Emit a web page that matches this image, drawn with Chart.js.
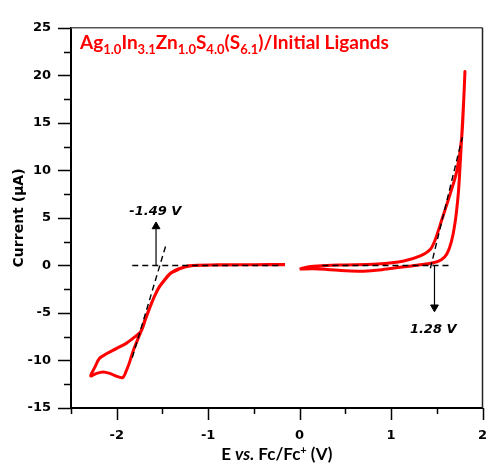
<!DOCTYPE html>
<html>
<head>
<meta charset="utf-8">
<title>CV onset</title>
<script src="https://cdn.jsdelivr.net/npm/chart.js@4.4.0/dist/chart.umd.min.js"></script>
<style>
  html, body { margin: 0; padding: 0; background: #fff; }
</style>
</head>
<body>
<canvas id="cvChart" width="488" height="464"></canvas>
<script>
// reduction scan (left loop), potential in V vs Fc/Fc+, current in uA
const leftE = [-0.16, -0.6, -0.9, -1.21, -1.32, -1.41, -1.48, -1.535, -1.59, -1.643, -1.698, -1.735,
  -1.788, -1.824, -1.86, -1.896, -1.935, -2.005, -2.077, -2.15, -2.22, -2.285,
  -2.24, -2.19, -2.113, -2.005, -1.896, -1.806, -1.735, -1.69, -1.64, -1.59, -1.535, -1.48, -1.41, -1.32, -1.2, -0.9, -0.5, -0.16];
const leftI = [0.08, 0.07, 0.06, -0.04, -0.4, -0.84, -1.6, -2.29, -3.32, -4.53, -5.9, -6.94,
  -8.2, -9.1, -10.2, -11.1, -11.8, -11.65, -11.35, -11.2, -11.35, -11.62,
  -10.73, -9.8, -9.3, -8.75, -8.2, -7.55, -6.94, -5.8, -4.5, -3.3, -2.25, -1.55, -0.8, -0.35, -0.05, 0.05, 0.08, 0.1];

// oxidation scan (right loop)
const rightE = [0.0, 0.15, 0.3, 0.5, 0.7, 0.9, 1.1, 1.3, 1.45, 1.55, 1.61, 1.66, 1.70, 1.735, 1.755, 1.775, 1.795, 1.808,
  1.797, 1.772, 1.718, 1.646, 1.555, 1.483, 1.428, 1.32, 1.14, 0.85, 0.5, 0.3, 0.12, 0.02, 0.0];
const rightI = [-0.38, -0.35, -0.42, -0.55, -0.6, -0.45, -0.2, 0.05, 0.25, 0.6, 1.2, 2.5, 4.5, 7.5, 10.5, 14, 17.5, 20.4,
  17.9, 13.4, 9.9, 7.5, 4.8, 2.7, 1.67, 1.0, 0.47, 0.15, 0.05, 0.0, -0.12, -0.32, -0.38];

// onset construction lines
const baseLeftE = [-1.83, -0.2];
const baseLeftI = [0, 0];
const tangentLeftE = [-1.83, -1.46];
const tangentLeftI = [-9.7, 2.2];
const baseRightE = [0.25, 1.63];
const baseRightI = [0, 0];
const tangentRightE = [1.43, 1.78];
const tangentRightI = [-0.3, 13.5];

// arrows pointing at the onset potentials
const arrowUpE = [-1.57, -1.57];
const arrowUpI = [0, 4.1];
const arrowDownE = [1.475, 1.475];
const arrowDownI = [0, -4.4];

const onsetLabels = ["-1.49 V", "1.28 V"];
const onsetLabelE = [-1.578, 1.461];
const onsetLabelI = [5.64, -6.73];

const xTicksMin = -2.5, xTicksMax = 2;
const yTicksMin = -15, yTicksMax = 25;

function pts(xs, ys) {
  return xs.map((x, i) => ({ x: x, y: ys[i] }));
}

const redCurve = {
  showLine: true,
  borderColor: "#ff0000",
  borderWidth: 3,
  pointRadius: 0,
  tension: 0.3,
  order: 2,
};

function dashed(xs, ys) {
  return {
    data: pts(xs, ys),
    showLine: true,
    borderColor: "#000",
    borderWidth: 1.4,
    borderDash: [6, 4],
    pointRadius: 0,
    order: 1,
  };
}

function arrow(xs, ys, rot) {
  return {
    data: pts(xs, ys),
    showLine: true,
    borderColor: "#000",
    borderWidth: 1.2,
    pointStyle: "triangle",
    pointRadius: [0, 4.5],
    pointRotation: [0, rot],
    pointBackgroundColor: "#000",
    pointBorderColor: "#000",
    pointBorderWidth: 1,
    order: 0,
  };
}

// outward tick marks, top/right frame and all the extra text
const decorations = {
  id: "decorations",
  afterDraw(chart) {
    const ctx = chart.ctx;
    const area = chart.chartArea;
    const xs = chart.scales.x;
    const ys = chart.scales.y;
    ctx.save();

    ctx.strokeStyle = "#555";
    ctx.lineWidth = 1.5;
    ctx.beginPath();
    ctx.moveTo(area.left, area.top);
    ctx.lineTo(area.right, area.top);
    ctx.stroke();
    ctx.strokeStyle = "#222";
    ctx.beginPath();
    ctx.moveTo(area.right, area.top);
    ctx.lineTo(area.right, area.bottom);
    ctx.stroke();

    ctx.strokeStyle = "#000";
    ctx.lineWidth = 1.5;
    ys.ticks.forEach((t) => {
      const py = Math.round(ys.getPixelForValue(t.value)) + 0.5;
      const len = t.value % 5 === 0 ? 13 : 7;
      ctx.beginPath();
      ctx.moveTo(area.left - len, py);
      ctx.lineTo(area.left, py);
      ctx.stroke();
    });
    xs.ticks.forEach((t) => {
      const px = Math.round(xs.getPixelForValue(t.value)) + 0.5;
      const len = Number.isInteger(t.value) ? 12 : 6;
      ctx.beginPath();
      ctx.moveTo(px, area.bottom);
      ctx.lineTo(px, area.bottom + len);
      ctx.stroke();
    });

    // onset labels
    ctx.fillStyle = "#000";
    ctx.font = "italic bold 13px 'DejaVu Sans'";
    ctx.textAlign = "center";
    ctx.textBaseline = "middle";
    onsetLabels.forEach((txt, i) => {
      ctx.fillText(txt, xs.getPixelForValue(onsetLabelE[i]), ys.getPixelForValue(onsetLabelI[i]));
    });

    // sample title with subscripts
    const parts = [["Ag", "1.0"], ["In", "3.1"], ["Zn", "1.0"], ["S", "4.0"], ["(S", "6.1"], [")/Initial Ligands", ""]];
    let tx = area.left + 9;
    const ty = 49;
    ctx.fillStyle = "#ff0000";
    ctx.textAlign = "left";
    ctx.textBaseline = "alphabetic";
    parts.forEach(([main, sub]) => {
      ctx.font = "bold 19px Lato";
      ctx.fillText(main, tx, ty);
      tx += ctx.measureText(main).width;
      if (sub) {
        ctx.font = "bold 13px Lato";
        ctx.fillText(sub, tx, ty + 5);
        tx += ctx.measureText(sub).width;
      }
    });

    // x axis title
    const xParts = [
      ["E ", "bold 17px Lato", 0],
      ["vs.", "italic bold 17px Lato", 0],
      [" Fc/Fc", "bold 17px Lato", 0],
      ["+", "bold 11px Lato", -6],
      [" (V)", "bold 17px Lato", 0],
    ];
    let w = 0;
    xParts.forEach(([s, f]) => { ctx.font = f; w += ctx.measureText(s).width; });
    let xx = (area.left + area.right) / 2 - w / 2;
    ctx.fillStyle = "#000";
    xParts.forEach(([s, f, dy]) => {
      ctx.font = f;
      ctx.fillText(s, xx, 460 + dy);
      xx += ctx.measureText(s).width;
    });

    // y axis title
    ctx.translate(19, (area.top + area.bottom) / 2);
    ctx.rotate(-Math.PI / 2);
    ctx.font = "bold 14px 'DejaVu Sans'";
    ctx.textAlign = "center";
    ctx.textBaseline = "middle";
    ctx.fillText("Current (\u00b5A)", 0, 0);

    ctx.restore();
  },
};

const ctx = document.getElementById("cvChart").getContext("2d");

new Chart(ctx, {
  type: "scatter",
  data: {
    datasets: [
      Object.assign({ data: pts(leftE, leftI) }, redCurve),
      Object.assign({ data: pts(rightE, rightI) }, redCurve),
      dashed(baseLeftE, baseLeftI),
      dashed(tangentLeftE, tangentLeftI),
      dashed(baseRightE, baseRightI),
      dashed(tangentRightE, tangentRightI),
      arrow(arrowUpE, arrowUpI, 0),
      arrow(arrowDownE, arrowDownI, 180),
    ],
  },
  options: {
    responsive: false,
    animation: false,
    layout: { padding: { left: 0, right: 2, top: 21, bottom: 0 } },
    plugins: { legend: { display: false }, tooltip: { enabled: false } },
    scales: {
      x: {
        type: "linear",
        min: xTicksMin,
        max: xTicksMax,
        grid: { display: false, drawTicks: false },
        border: { display: true, color: "#000", width: 2 },
        ticks: {
          stepSize: 0.5,
          autoSkip: false,
          maxRotation: 0,
          padding: 20,
          color: "#000",
          font: { family: "DejaVu Sans", size: 13, weight: "bold" },
          callback: (v) => (Number.isInteger(v) ? v : ""),
        },
        afterFit(scale) {
          scale.height = 56;
          scale.paddingLeft = 0;
          scale.paddingRight = 0;
        },
      },
      y: {
        type: "linear",
        min: yTicksMin,
        max: yTicksMax,
        grid: { display: false, drawTicks: false },
        border: { display: true, color: "#000", width: 2 },
        ticks: {
          stepSize: 2.5,
          autoSkip: false,
          padding: 20,
          color: "#000",
          font: { family: "DejaVu Sans", size: 13, weight: "bold" },
          callback: (v) => (v % 5 === 0 ? v : ""),
        },
        afterFit(scale) {
          scale.width = 71;
        },
      },
    },
  },
  plugins: [decorations],
});
</script>
</body>
</html>
